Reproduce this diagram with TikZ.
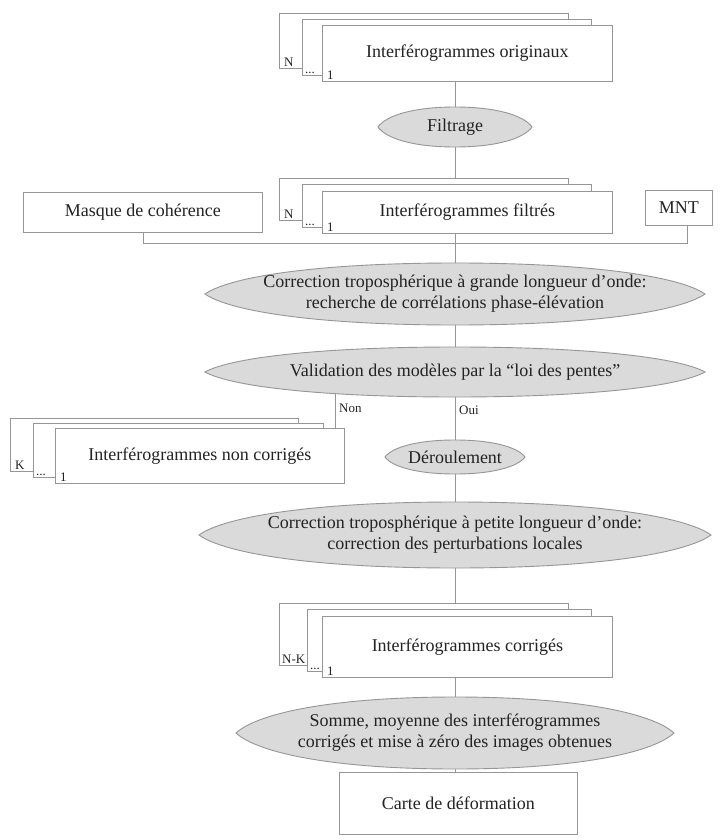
\documentclass[tikz,border=0pt]{standalone}
\usepackage{fontspec}
\setmainfont{Liberation Serif}
\usetikzlibrary{backgrounds}
\pgfdeclarelayer{mid}
\pgfsetlayers{background,mid,main}
\definecolor{ln}{RGB}{150,150,150}
\definecolor{ellfill}{RGB}{218,218,218}
\definecolor{txt}{RGB}{35,35,35}
\newcommand{\lensat}[3]{%
  \begin{pgfonlayer}{mid}
  \filldraw[lensstyle] ([shift={(-#2,0)}]#1.center)
    .. controls ([shift={(-0.9*#2,-0.56*#3)}]#1.center) and ([shift={(-0.55*#2,-#3)}]#1.center) .. ([shift={(0,-#3)}]#1.center)
    .. controls ([shift={(0.55*#2,-#3)}]#1.center) and ([shift={(0.9*#2,-0.56*#3)}]#1.center) .. ([shift={(#2,0)}]#1.center)
    .. controls ([shift={(0.9*#2,0.56*#3)}]#1.center) and ([shift={(0.55*#2,#3)}]#1.center) .. ([shift={(0,#3)}]#1.center)
    .. controls ([shift={(-0.55*#2,#3)}]#1.center) and ([shift={(-0.9*#2,0.56*#3)}]#1.center) .. ([shift={(-#2,0)}]#1.center)
    -- cycle;
  \end{pgfonlayer}}
\begin{document}
\begin{tikzpicture}[x=1pt,y=-1pt,
  every node/.style={text=txt},
  sheet/.style={draw=ln, fill=white, line width=0.9pt, anchor=north west, inner sep=0pt, font=\fontsize{18}{21}\selectfont},
  oval/.style={rectangle, inner sep=0pt, align=center, font=\fontsize{18}{21}\selectfont},
  lensstyle/.style={draw=ln, fill=ellfill, line width=0.9pt},
  small/.style={font=\fontsize{13}{15}\selectfont, inner sep=1pt},
  link/.style={draw=ln, line width=0.9pt}]
\useasboundingbox (0,0) rectangle (720,840);

% stack 1
\node[sheet, minimum width=289, minimum height=55] (o3) at (279,13) {};
\node[sheet, minimum width=289, minimum height=56] (o2) at (302,19) {};
\node[sheet, minimum width=290, minimum height=56] (o1) at (322,25) {Interférogrammes originaux};
\node[small, anchor=south west] (o3l) at ([xshift=4pt,yshift=1pt]o3.south west) {N};
\node[small, anchor=south west] (o2l) at ([xshift=2pt,yshift=1pt]o2.south west) {...};
\node[small, anchor=south west] (o1l) at ([xshift=4pt,yshift=1pt]o1.south west) {1};

\node[oval, minimum width=154, minimum height=40] (filt) at (455,127) {Filtrage};
\lensat{filt}{77}{20}

% stack 2
\node[sheet, minimum width=289, minimum height=42] (f3) at (279,178) {};
\node[sheet, minimum width=289, minimum height=43] (f2) at (302,184) {};
\node[sheet, minimum width=290, minimum height=42] (f1) at (322,191) {Interférogrammes filtrés};
\node[small, anchor=south west] (f3l) at ([xshift=4pt,yshift=1pt]f3.south west) {N};
\node[small, anchor=south west] (f2l) at ([xshift=2pt,yshift=1pt]f2.south west) {...};
\node[small, anchor=south west] (f1l) at ([xshift=4pt,yshift=1pt]f1.south west) {1};

\node[sheet, minimum width=239, minimum height=40] (mask) at (23,192) {Masque de cohérence};
\node[sheet, minimum width=67, minimum height=35] (mnt) at (645,190) {MNT};
\coordinate (mntx) at (687,243);

\node[oval, minimum width=500, minimum height=62] (E1) at (455,294)
  {Correction troposphérique à grande longueur d’onde:\\recherche de corrélations phase-élévation};
\lensat{E1}{250}{31}
\node[oval, minimum width=500, minimum height=50] (E2) at (455,372)
  {Validation des modèles par la “loi des pentes”};
\lensat{E2}{250}{25}

\coordinate (nonx) at (335,0);
\node[small, anchor=south west] (nonlab) at (338,414) {Non};
\node[small, anchor=south west] (ouilab) at (458,416) {Oui};

% stack non corriges
\node[sheet, minimum width=288, minimum height=53] (nc3) at (10,418) {};
\node[sheet, minimum width=290, minimum height=54] (nc2) at (33,423) {};
\node[sheet, minimum width=289, minimum height=55] (nc1) at (55,428) {Interférogrammes non corrigés};
\node[small, anchor=south west] (nc3l) at ([xshift=4pt,yshift=1pt]nc3.south west) {K};
\node[small, anchor=south west] (nc2l) at ([xshift=2pt,yshift=1pt]nc2.south west) {...};
\node[small, anchor=south west] (nc1l) at ([xshift=4pt,yshift=1pt]nc1.south west) {1};

\node[oval, minimum width=140, minimum height=34] (der) at (455,457) {Déroulement};
\lensat{der}{70}{17}

\node[oval, minimum width=512, minimum height=66] (E3) at (455,535)
  {Correction troposphérique à petite longueur d’onde:\\correction des perturbations locales};
\lensat{E3}{256}{33}

% stack corriges
\node[sheet, minimum width=289, minimum height=62] (c3) at (279,603) {};
\node[sheet, minimum width=284, minimum height=62] (c2) at (307,609) {};
\node[sheet, minimum width=290, minimum height=61] (c1) at (322,616) {Interférogrammes corrigés};
\node[small, anchor=south west] (c3l) at ([xshift=2pt,yshift=1pt]c3.south west) {N-K};
\node[small, anchor=south west] (c2l) at ([xshift=2pt,yshift=1pt]c2.south west) {...};
\node[small, anchor=south west] (c1l) at ([xshift=4pt,yshift=1pt]c1.south west) {1};

\node[oval, minimum width=438, minimum height=72] (E4) at (455,733)
  {Somme, moyenne des interférogrammes\\corrigés et mise à zéro des images obtenues};
\lensat{E4}{219}{36}

\node[sheet, minimum width=238, minimum height=62] (carte) at (339,772) {Carte de déformation};

\begin{pgfonlayer}{background}
\fill[white] (0,0) rectangle (720,840);
\draw[link] (o1.south -| filt.north) -- (filt.north);
\draw[link] (filt.south) -- (f3.north -| filt.south);
\draw[link] (f1.south -| E1.north) -- (E1.north);
\draw[link] (mask.south) |- (mntx) -- (mntx |- mnt.south);
\draw[link] (E1.south) -- (E2.north);
\draw[link] (nonx |- E2.center) -- (nonx |- nc1.north);
\draw[link] (E2.south) -- (der.north);
\draw[link] (der.south) -- (E3.north);
\draw[link] (E3.south) -- (c3.north -| E3.south);
\draw[link] (c1.south -| E4.north) -- (E4.north);
\draw[link] (E4.south) -- (carte.north -| E4.south);
\end{pgfonlayer}
\end{tikzpicture}
\end{document}
